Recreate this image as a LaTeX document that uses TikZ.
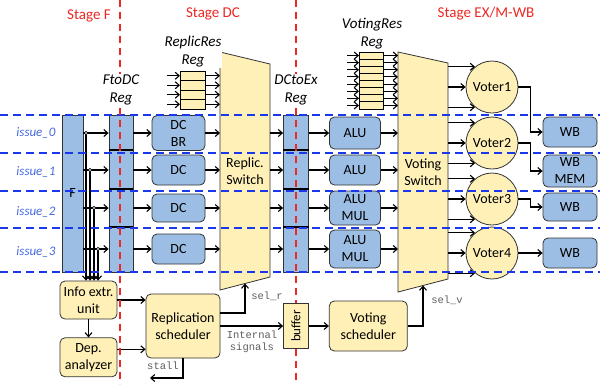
\documentclass[tikz,border=0pt]{standalone}
\usepackage{fontspec}
\setmainfont{Carlito}
\setmonofont{Liberation Mono}
\usepackage{graphicx}
\usetikzlibrary{arrows.meta,positioning,calc}
\definecolor{boxblue}{RGB}{157,190,228}
\definecolor{boxyellow}{RGB}{254,240,182}
\definecolor{lanedash}{RGB}{25,55,235}
\definecolor{stagered}{RGB}{235,40,35}
\definecolor{issueblue}{RGB}{70,105,225}
\definecolor{siggray}{RGB}{95,95,95}
\tikzset{
  boxtext/.style={align=center, font=\fontsize{14}{17}\selectfont},
  unit/.style={boxtext, draw=black!80, line width=0.8pt, rounded corners=5pt, inner sep=1pt},
  bluebox/.style={unit, fill=boxblue, minimum width=53pt, minimum height=30pt},
  yelbox/.style={unit, fill=boxyellow},
  plainbox/.style={draw=black!80, line width=0.8pt, fill=boxyellow, inner sep=0pt, font=\fontsize{13}{15}\selectfont},
  voter/.style={circle, boxtext, draw=black!80, line width=0.8pt, fill=boxyellow, minimum size=52pt, inner sep=0pt},
  hull/.style={minimum width=50pt, inner sep=0pt, outer sep=0pt},
  regbar/.style={boxtext, draw=black!80, line width=0.8pt, fill=boxblue, inner sep=0pt, minimum height=157pt, minimum width=24pt},
  regcell/.style={draw=black, line width=1pt, fill=boxyellow},
  regsep/.style={line width=2pt},
  switchbody/.style={draw=black!80, line width=0.8pt, fill=boxyellow},
  arrow/.style={-{Straight Barb[length=4pt,width=7pt]}, line width=1.1pt},
  tap/.style={circle, draw=black, fill=gray!40, line width=0.5pt, inner sep=0pt, minimum size=3.5pt},
  stagelabel/.style={text=stagered, font=\fontsize{15}{18}\selectfont},
  reglabel/.style={fill=white, align=center, inner sep=1pt, font=\fontsize{15}{18}\selectfont\itshape},
  issuelabel/.style={text=issueblue, font=\fontsize{13}{15}\selectfont\itshape},
  siglabel/.style={text=siggray, align=center, inner sep=1pt, font=\fontsize{10.5}{12}\selectfont\ttfamily},
  lanesep/.style={draw=lanedash, line width=1.5pt, dash pattern=on 8pt off 5pt},
  stagesep/.style={draw=stagered, line width=1.5pt, dash pattern=on 7pt off 5pt}
}
\begin{document}
\begin{tikzpicture}[x=1pt, y=-1pt, node distance=18pt]
\fill[white] (0,0) rectangle (600,384);
\useasboundingbox (0,0) rectangle (600,384);

% switches
\node[hull, minimum height=238pt] (rsw) at (245,171) {};
\draw[switchbody] (rsw.north west)--([yshift=-12pt]rsw.north east)--([yshift=13pt]rsw.south east)--(rsw.south west)--cycle;
\node[boxtext] at (rsw) {Replic.\\Switch};
\node[hull, minimum height=240pt] (vsw) at (423,172) {};
\draw[switchbody] (vsw.north west)--([yshift=-11pt]vsw.north east)--([yshift=13pt]vsw.south east)--(vsw.south west)--cycle;
\node[boxtext] at (vsw) {Voting\\Switch};
\coordinate (rselin) at ($(rsw.south west)!0.5!([yshift=13pt]rsw.south east)$);
\coordinate (vselin) at ($(vsw.south west)!0.5!([yshift=13pt]vsw.south east)$);

% pipeline registers
\node[regbar, minimum width=21pt] (fblk) at (72.5,193.5) {F};
\node[regbar] (ftodc) at (121,193.5) {};
\node[regbar, minimum width=25pt] (dcex) at (296,193.5) {};
\foreach \y in {150,189,227}{
  \draw[regsep] (ftodc.west |- 0,\y)--(ftodc.east |- 0,\y);
  \draw[regsep] (dcex.west |- 0,\y)--(dcex.east |- 0,\y);
}

\node[hull, minimum width=25pt, minimum height=38pt] (rres) at (192.5,90) {};
\foreach \k in {0,...,3}{
  \draw[regcell] ($(rres.north west)+(0,\k*9.5)$) rectangle ++(25,9.5);
  \coordinate (rin\k) at ($(rres.north west)+(-13,\k*9.5+4.75)$);
  \draw[arrow] (rin\k)--(rin\k -| rres.west);
  \draw[arrow] (rin\k -| rres.east)--(rin\k -| rsw.west);
}
\node[hull, minimum width=24pt, minimum height=57pt] (vres) at (371,80.5) {};
\foreach \k in {0,...,7}{
  \draw[regcell] ($(vres.north west)+(0,\k*7.125)$) rectangle ++(24,7.125);
  \coordinate (vin\k) at ($(vres.north west)+(-12,\k*7.125+3.56)$);
  \draw[arrow] (vin\k)--(vin\k -| vres.west);
  \draw[arrow] (vin\k -| vres.east)--(vin\k -| vsw.west);
}

% units
\node[bluebox, minimum height=35pt] (dc0) at (178.5,133) {DC\\BR};
\node[bluebox] (dc1) at (178.5,170) {DC};
\node[bluebox, minimum height=28pt] (dc2) at (178.5,208) {DC};
\node[bluebox] (dc3) at (178.5,249) {DC};
\node[bluebox, minimum width=51pt, minimum height=32pt] (alu0) at (355,133) {ALU};
\node[bluebox, minimum width=51pt] (alu1) at (355,170) {ALU};
\node[bluebox, minimum width=51pt, minimum height=34pt] (alu2) at (355,208) {ALU\\MUL};
\node[bluebox, minimum width=51pt, minimum height=38pt] (alu3) at (355,249) {ALU\\MUL};
\foreach \j/\y in {1/87,2/143,3/199,4/253}
  \node[voter] (v\j) at (492,\y) {Voter\j};
\node[bluebox, minimum width=54pt] (wb1) at (570,132) {WB};
\node[bluebox, minimum width=54pt, minimum height=32pt] (wb2) at (570,171) {WB\\MEM};
\node[bluebox, minimum width=54pt, minimum height=28pt] (wb3) at (570,207) {WB};
\node[bluebox, minimum width=54pt] (wb4) at (570,253) {WB};

\node[yelbox, minimum width=57pt, minimum height=38pt] (info) at (88.5,300) {Info extr.\\unit};
\node[yelbox, minimum width=57pt, minimum height=39pt, below=of info] (dep) {Dep.\\analyzer};
\node[yelbox, minimum width=74pt, minimum height=64pt] (repl) at (183,326) {Replication\\scheduler};
\node[plainbox, minimum width=25pt, minimum height=45pt] (buf) at (296,326) {\rotatebox{90}{buffer}};
\node[yelbox, minimum width=78pt, minimum height=50pt, right=20pt of buf] (vsched) {Voting\\scheduler};

% datapath
\foreach \n in {0,...,3}{
  \draw[arrow] (fblk.east |- dc\n)--(ftodc.west |- dc\n);
  \draw[arrow] (ftodc.east |- dc\n)--(dc\n.west);
  \draw[arrow] (dc\n.east)--(dc\n.east -| rsw.west);
  \draw[arrow] (rsw.east |- dc\n)--(dcex.west |- dc\n);
  \draw[arrow] (dcex.east |- alu\n)--(alu\n.west);
  \draw[arrow] (alu\n.east)--(alu\n.east -| vsw.west);
}
\foreach \n/\x in {0/86,1/90,2/94,3/98}{
  \draw[arrow] (dc\n -| \x,0)--(info.north -| \x,0);
  \node[tap] (tap\n) at (dc\n -| \x,0) {};
}
\foreach \j in {1,...,4}
  \foreach \a in {130,180,230}
    \draw[arrow] (v\j.\a -| vsw.east)--(v\j.\a);
\foreach \j in {1,2,3}
  \draw[arrow] (v\j.east)--([xshift=12pt]v\j.east) |- (wb\j.west);
\draw[arrow] (v4)--(wb4);

% control
\draw[arrow] (info)--(dep);
\draw[arrow] (info.east)--(info.east -| repl.west);
\draw[arrow] ([yshift=8pt]dep.east)--([yshift=8pt]dep.east -| repl.west);
\coordinate (stallend) at (150,378);
\draw[arrow] (repl.south) |- (stallend);
\draw[arrow] ([yshift=13pt]repl.east) -| (rselin);
\draw[arrow] (repl.east)--(buf.west);
\draw[arrow] (buf.east)--(vsched.west);
\draw[arrow] (vsched.east) -| (vselin);
\node[siglabel] at (163,366) {stall};
\node[siglabel] at (267,296) {sel\_r};
\node[siglabel] at (252,342) {Internal\\signals};
\node[siglabel] at (447,300) {sel\_v};

% lanes and stages
\foreach \y in {115,153,191,228,272}
  \draw[lanesep] (0,\y)--(600,\y);
\draw[stagesep] (120,0)--(120,384);
\draw[stagesep] (296,0)--(buf.north);
\draw[stagesep] (buf.south)--(296,384);

\node[stagelabel] at (89,16) {Stage F};
\node[stagelabel] at (213,14) {Stage DC};
\node[stagelabel] at (486,14) {Stage EX/M-WB};
\node[reglabel] at (121,90) {FtoDC\\Reg};
\node[reglabel] at (296,90) {DCtoEx\\Reg};
\node[reglabel] at (193,52) {ReplicRes\\Reg};
\node[reglabel] at (372,34) {VotingRes\\Reg};
\foreach \n/\y in {0/133,1/172,2/212,3/252}
  \node[issuelabel] at (36,\y) {issue\_\n};
\end{tikzpicture}
\end{document}
